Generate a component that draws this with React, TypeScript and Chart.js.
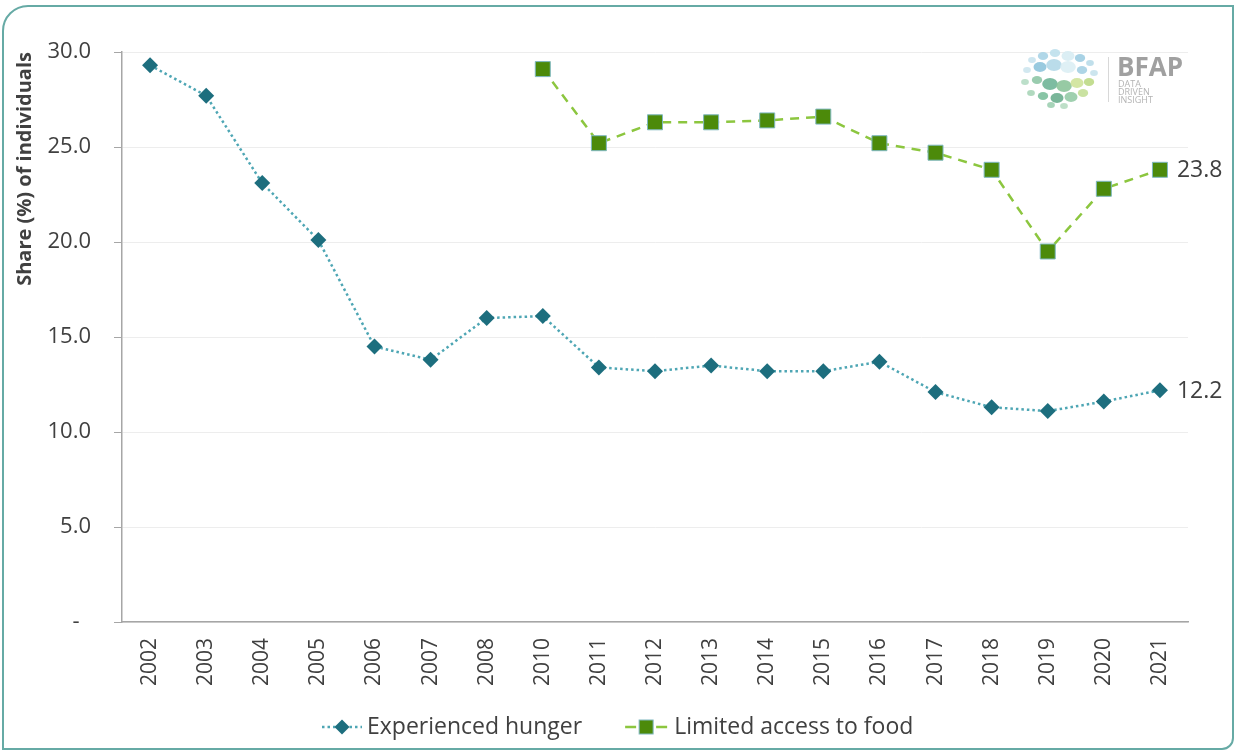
import React, { useEffect, useRef } from "react";
import { Chart, registerables } from "chart.js";

Chart.register(...registerables);

const years = [
  "2002", "2003", "2004", "2005", "2006", "2007", "2008", "2010", "2011", "2012",
  "2013", "2014", "2015", "2016", "2017", "2018", "2019", "2020", "2021",
];
const experiencedHunger = [
  29.3, 27.7, 23.1, 20.1, 14.5, 13.8, 16.0, 16.1, 13.4, 13.2,
  13.5, 13.2, 13.2, 13.7, 12.1, 11.3, 11.1, 11.6, 12.2,
];
const limitedAccess = [
  null, null, null, null, null, null, null, 29.1, 25.2, 26.3,
  26.3, 26.4, 26.6, 25.2, 24.7, 23.8, 19.5, 22.8, 23.8,
];
const seriesNames = ["Experienced hunger", "Limited access to food"];
const yAxisTitle = "Share (%) of individuals";
const yMin = 0;
const yMax = 30;
const yStep = 5;

const FONT = "'Open Sans', 'Noto Sans', sans-serif";
const TEXT = "#404040";
const HUNGER_LINE = "#4ea6b4";
const HUNGER_MARK = "#1d6e7e";
const ACCESS_LINE = "#8cc63f";
const ACCESS_MARK = "#4c8a0a";
const ACCESS_EDGE = "#7fb8c0";

function drawDiamond(ctx: CanvasRenderingContext2D, x: number, y: number, r: number) {
  ctx.beginPath();
  ctx.moveTo(x, y - r);
  ctx.lineTo(x + r, y);
  ctx.lineTo(x, y + r);
  ctx.lineTo(x - r, y);
  ctx.closePath();
  ctx.fillStyle = HUNGER_MARK;
  ctx.fill();
}

function drawSquare(ctx: CanvasRenderingContext2D, x: number, y: number, s: number) {
  ctx.fillStyle = ACCESS_MARK;
  ctx.fillRect(x - s / 2, y - s / 2, s, s);
  ctx.strokeStyle = ACCESS_EDGE;
  ctx.lineWidth = 1;
  ctx.strokeRect(x - s / 2, y - s / 2, s, s);
}

const endLabelsPlugin = {
  id: "endLabels",
  afterDatasetsDraw(chart: any) {
    const ctx = chart.ctx;
    ctx.save();
    ctx.font = `23px ${FONT}`;
    ctx.fillStyle = TEXT;
    ctx.textAlign = "left";
    ctx.textBaseline = "middle";
    chart.data.datasets.forEach((ds: any, i: number) => {
      const meta = chart.getDatasetMeta(i);
      const last = ds.data.length - 1;
      const pt = meta.data[last];
      if (pt && ds.data[last] != null) {
        ctx.fillText(Number(ds.data[last]).toFixed(1), pt.x + 17, pt.y + 1);
      }
    });
    ctx.restore();
  },
};

const legendPlugin = {
  id: "customLegend",
  afterDraw(chart: any) {
    const ctx = chart.ctx;
    const y = 727;
    ctx.save();
    ctx.font = `23px ${FONT}`;
    ctx.textBaseline = "middle";
    ctx.textAlign = "left";
    let x = 322;
    ctx.strokeStyle = HUNGER_LINE;
    ctx.lineWidth = 2.5;
    ctx.setLineDash([2.5, 3]);
    ctx.beginPath();
    ctx.moveTo(x, y);
    ctx.lineTo(x + 40, y);
    ctx.stroke();
    ctx.setLineDash([]);
    drawDiamond(ctx, x + 20, y, 7.5);
    x += 45;
    ctx.fillStyle = TEXT;
    ctx.fillText(seriesNames[0], x, y);
    x += ctx.measureText(seriesNames[0]).width + 43;
    ctx.strokeStyle = ACCESS_LINE;
    ctx.lineWidth = 2.5;
    ctx.beginPath();
    ctx.moveTo(x, y);
    ctx.lineTo(x + 11, y);
    ctx.moveTo(x + 31, y);
    ctx.lineTo(x + 42, y);
    ctx.stroke();
    drawSquare(ctx, x + 21, y, 14);
    x += 49;
    ctx.fillStyle = TEXT;
    ctx.fillText(seriesNames[1], x, y);
    ctx.restore();
  },
};

const logoDots: [number, number, number, string][] = [
  [1032, 60, 3, "#c9e3ee"], [1043, 56, 4, "#a9d3e6"], [1055, 53, 4, "#bfe0ec"],
  [1068, 56, 5, "#d7ecf3"], [1080, 58, 4, "#9fcde2"], [1090, 63, 3, "#b9dbe9"],
  [1027, 70, 3, "#cde6ee"], [1040, 67, 5, "#8ec4dc"], [1054, 65, 6, "#b3d8e8"],
  [1068, 67, 6, "#dbeef4"], [1082, 70, 4, "#a5d0e3"], [1094, 73, 3, "#c7e2ec"],
  [1025, 82, 3, "#b5dcc4"], [1037, 80, 4, "#8fc7a6"], [1050, 84, 6, "#6fb597"],
  [1064, 86, 6, "#8cc49a"], [1077, 83, 5, "#cfe39a"], [1089, 82, 4, "#bcd985"],
  [1031, 93, 3, "#a8d5b8"], [1043, 96, 4, "#7cbf9c"], [1057, 98, 5, "#6aae8e"],
  [1071, 97, 5, "#95cba6"], [1083, 93, 4, "#c4df97"], [1051, 105, 3, "#9dcfb1"],
  [1064, 106, 3, "#b7dcc2"],
];

const logoPlugin = {
  id: "logo",
  afterDraw(chart: any) {
    const ctx = chart.ctx;
    ctx.save();
    logoDots.forEach(([x, y, r, c]) => {
      ctx.beginPath();
      ctx.ellipse(x, y, r * 1.3, r, 0, 0, Math.PI * 2);
      ctx.fillStyle = c;
      ctx.globalAlpha = 0.9;
      ctx.fill();
    });
    ctx.globalAlpha = 1;
    ctx.strokeStyle = "#d8d8d8";
    ctx.lineWidth = 1;
    ctx.beginPath();
    ctx.moveTo(1108.5, 57);
    ctx.lineTo(1108.5, 102);
    ctx.stroke();
    ctx.fillStyle = "#a0a0a0";
    ctx.textAlign = "left";
    ctx.textBaseline = "alphabetic";
    ctx.font = `bold 26px ${FONT}`;
    ctx.fillText("BFAP", 1117, 76);
    ctx.fillStyle = "#b4b4b4";
    ctx.font = `9px ${FONT}`;
    ctx.fillText("DATA", 1118, 87);
    ctx.fillText("DRIVEN", 1118, 95);
    ctx.fillText("INSIGHT", 1118, 103);
    ctx.restore();
  },
};

export default function App() {
  const canvasRef = useRef<HTMLCanvasElement | null>(null);

  useEffect(() => {
    const canvas = canvasRef.current;
    if (!canvas) return;
    const chart = new Chart(canvas, {
      type: "line",
      data: {
        labels: years,
        datasets: [
          {
            label: seriesNames[0],
            data: experiencedHunger,
            borderColor: HUNGER_LINE,
            borderWidth: 2.5,
            borderDash: [2.5, 3],
            pointStyle: "rectRot",
            pointRadius: 8,
            pointBackgroundColor: HUNGER_MARK,
            pointBorderColor: HUNGER_MARK,
            pointBorderWidth: 0,
            tension: 0,
            fill: false,
          },
          {
            label: seriesNames[1],
            data: limitedAccess,
            borderColor: ACCESS_LINE,
            borderWidth: 2.5,
            borderDash: [9, 7],
            pointStyle: "rect",
            pointRadius: 10.6,
            pointBackgroundColor: ACCESS_MARK,
            pointBorderColor: ACCESS_EDGE,
            pointBorderWidth: 1,
            tension: 0,
            fill: false,
            spanGaps: false,
          },
        ],
      },
      options: {
        responsive: false,
        animation: false,
        devicePixelRatio: 1,
        layout: { padding: { left: 10, right: 52, top: 52, bottom: 0 } },
        plugins: {
          legend: { display: false },
          tooltip: { enabled: false },
        },
        scales: {
          x: {
            type: "category",
            offset: true,
            grid: { display: false, drawTicks: false },
            border: { display: true, color: "#a6a6a6", width: 1.5 },
            ticks: {
              color: TEXT,
              font: { family: FONT, size: 21 },
              minRotation: 90,
              maxRotation: 90,
              padding: 16,
              autoSkip: false,
            },
            afterFit: (scale: any) => {
              scale.height = 128;
            },
          },
          y: {
            min: yMin,
            max: yMax,
            grid: {
              color: "#ededed",
              tickColor: "#a6a6a6",
              tickLength: 8,
              drawTicks: true,
            },
            border: { display: true, color: "#a6a6a6", width: 1.5 },
            ticks: {
              stepSize: yStep,
              color: TEXT,
              font: { family: FONT, size: 22 },
              padding: 23,
              callback: (v: any) => (Number(v) === 0 ? "-  " : Number(v).toFixed(1)),
            },
            title: {
              display: true,
              text: yAxisTitle,
              align: "end",
              color: TEXT,
              font: { family: FONT, size: 20, weight: "bold" },
              padding: { top: 3, bottom: 0 },
            },
            afterFit: (scale: any) => {
              scale.width = 112;
            },
          },
        },
      },
      plugins: [endLabelsPlugin, legendPlugin, logoPlugin],
    } as any);
    return () => chart.destroy();
  }, []);

  return (
    <>
      <canvas
        ref={canvasRef}
        width={1240}
        height={750}
        style={{ position: "fixed", left: 0, top: 0, width: 1240, height: 750, background: "#ffffff" }}
      />
      <div
        style={{
          position: "fixed",
          left: 2,
          top: 5,
          width: 1228,
          height: 741,
          border: "2px solid #66aaa5",
          borderRadius: "26px 0 12px 0",
          pointerEvents: "none",
        }}
      />
    </>
  );
}
